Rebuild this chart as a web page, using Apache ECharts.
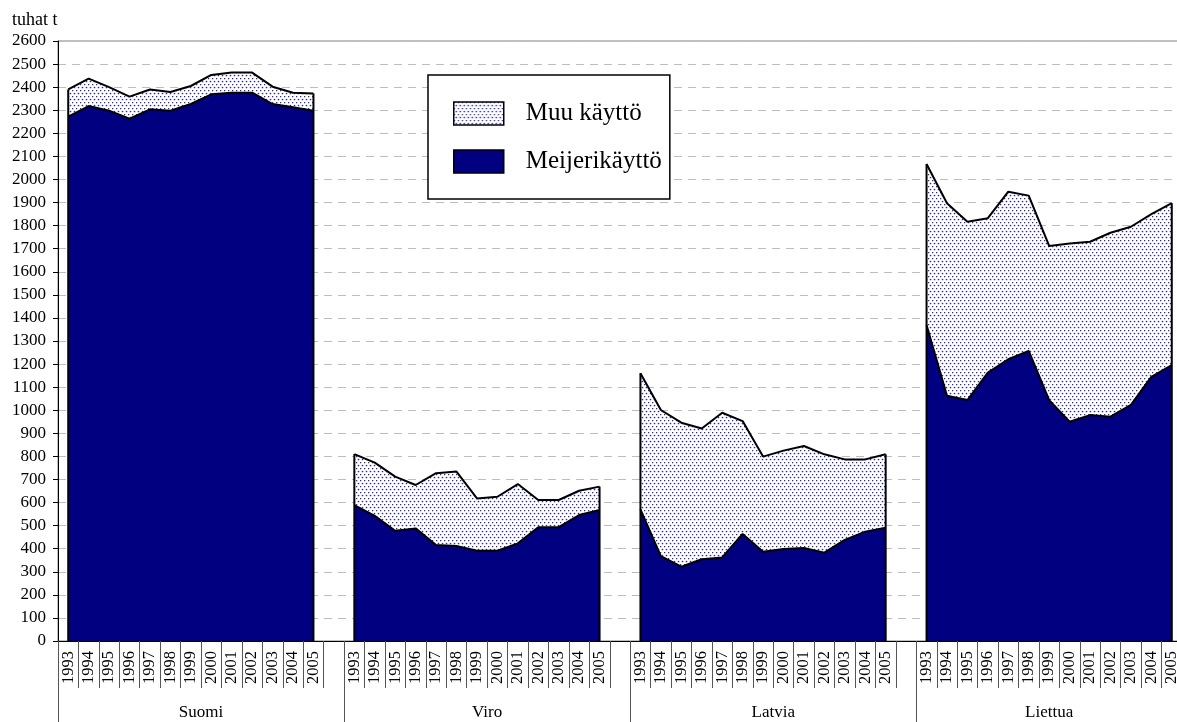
<!DOCTYPE html>
<html>
<head>
<meta charset="utf-8">
<script src="https://cdn.jsdelivr.net/npm/echarts@6/dist/echarts.min.js"></script>
<style>
html,body{margin:0;padding:0;background:#fff;overflow:hidden;}
#chart{width:1182px;height:722px;}
</style>
</head>
<body>
<div id="chart"></div>
<script>
// ---- data ----
const years = ['1993','1994','1995','1996','1997','1998','1999','2000','2001','2002','2003','2004','2005'];
const groups = ['Suomi','Viro','Latvia','Liettua'];
const yTicks = [0, 2600, 100];
const unitLabel = 'tuhat t';
const seriesNames = ['Muu käyttö','Meijerikäyttö'];

const meijeriSuomi   = [2272,2318,2298,2263,2304,2298,2327,2369,2376,2376,2327,2313,2298];
const muuSuomi       = [118,119,102,96,86,81,78,84,87,87,75,63,75];
const meijeriViro    = [589,542,478,488,416,412,391,391,423,493,493,546,568];
const muuViro        = [221,231,234,188,311,322,227,234,257,118,118,105,101];
const meijeriLatvia  = [570,368,322,354,362,464,387,399,403,383,438,474,491];
const muuLatvia      = [590,633,624,567,627,489,412,426,442,426,349,313,318];
const meijeriLiettua = [1369,1063,1044,1163,1221,1257,1044,950,979,972,1023,1145,1196];
const muuLiettua     = [698,834,773,669,726,673,668,773,751,797,772,705,701];

const meijeriByGroup = [meijeriSuomi, meijeriViro, meijeriLatvia, meijeriLiettua];
const muuByGroup = [muuSuomi, muuViro, muuLatvia, muuLiettua];

// ---- build category axis with a blank category between groups ----
const categories = [];
const meijeriData = [];
const muuData = [];
const edgeData = [];
const groupBounds = [0];
const groupCenters = [];
groups.forEach((g, gi) => {
  const start = categories.length;
  years.forEach((y, i) => {
    categories.push(y);
    meijeriData.push(meijeriByGroup[gi][i]);
    muuData.push(muuByGroup[gi][i]);
  });
  const end = categories.length - 1;
  edgeData.push([start, meijeriByGroup[gi][0] + muuByGroup[gi][0]]);
  edgeData.push([end, meijeriByGroup[gi][years.length-1] + muuByGroup[gi][years.length-1]]);
  if (gi < groups.length - 1) {
    categories.push('');
    meijeriData.push(null);
    muuData.push(null);
  }
  groupBounds.push(categories.length);
  groupCenters.push((groupBounds[gi] + categories.length) / 2);
});
const nCat = categories.length;

// ---- dotted pattern ----
function makePattern() {
  const c = document.createElement('canvas');
  c.width = 4; c.height = 6;
  const ctx = c.getContext('2d');
  ctx.fillStyle = '#ffffff';
  ctx.fillRect(0, 0, 4, 6);
  ctx.fillStyle = '#2a2aa0';
  ctx.beginPath(); ctx.arc(0.5, 0.5, 0.85, 0, Math.PI * 2); ctx.fill();
  ctx.beginPath(); ctx.arc(2.5, 3.5, 0.85, 0, Math.PI * 2); ctx.fill();
  return { image: c, repeat: 'repeat' };
}
const pattern = makePattern();
const navy = '#000080';
const serif = 'Liberation Serif';

const chart = echarts.init(document.getElementById('chart'), null, { renderer: 'canvas' });
chart.setOption({
  animation: false,
  backgroundColor: '#fff',
  title: {
    text: unitLabel, left: 7, top: 6,
    textStyle: { fontFamily: serif, fontSize: 18, fontWeight: 'normal', color: '#000' }
  },
  grid: {
    left: 58, right: 0, top: 41, bottom: 81,
    show: true, borderColor: '#808080', borderWidth: 1, backgroundColor: 'transparent'
  },
  legend: {
    orient: 'vertical', left: 428, top: 75,
    padding: [26, 8, 25, 25],
    itemWidth: 50, itemHeight: 23, itemGap: 23,
    borderColor: '#000', borderWidth: 1.5, backgroundColor: '#fff',
    selectedMode: false,
    textStyle: { fontFamily: serif, fontSize: 25, color: '#000', padding: [0, 0, 0, 17] },
    data: [
      { name: seriesNames[0], icon: 'rect', itemStyle: { color: pattern, borderColor: '#000', borderWidth: 1.5 } },
      { name: seriesNames[1], icon: 'rect', itemStyle: { color: navy, borderColor: '#000', borderWidth: 1.5 } }
    ]
  },
  xAxis: [
    {
      type: 'category', data: categories, boundaryGap: true, position: 'bottom',
      axisLine: { show: true, lineStyle: { color: '#000', width: 1 } },
      axisTick: { show: true, interval: 0, length: 47, lineStyle: { color: '#555' } },
      axisLabel: {
        interval: 0, rotate: 90, margin: 10,
        fontFamily: serif, fontSize: 16.5, color: '#000'
      },
      splitLine: { show: false }
    },
    {
      type: 'value', min: 0, max: nCat, position: 'bottom', offset: 0,
      axisLine: { show: false },
      axisTick: { show: true, length: 81, customValues: groupBounds, lineStyle: { color: '#555' } },
      axisLabel: {
        customValues: groupCenters, margin: 63,
        fontFamily: serif, fontSize: 17, color: '#000',
        formatter: function (v) {
          const i = groupCenters.indexOf(v);
          return i >= 0 ? groups[i] : '';
        }
      },
      splitLine: { show: false }
    }
  ],
  yAxis: {
    type: 'value', min: yTicks[0], max: yTicks[1], interval: yTicks[2],
    axisLine: { show: true, lineStyle: { color: '#000', width: 1 } },
    axisTick: { show: true, length: 5, lineStyle: { color: '#000' } },
    axisLabel: {
      fontFamily: serif, fontSize: 17, color: '#000', margin: 12,
      formatter: function (v) { return String(v); }
    },
    splitLine: { show: true, lineStyle: { color: '#bdbdbd', type: [8, 6], width: 1 } }
  },
  series: [
    {
      name: seriesNames[1], type: 'line', stack: 'total', data: meijeriData,
      symbol: 'none', connectNulls: false, color: navy,
      lineStyle: { color: '#000', width: 2 },
      areaStyle: { color: navy, opacity: 1 },
      z: 2
    },
    {
      name: seriesNames[0], type: 'line', stack: 'total', data: muuData,
      symbol: 'none', connectNulls: false, color: '#2a2aa0',
      lineStyle: { color: '#000', width: 2 },
      areaStyle: { color: pattern, opacity: 1 },
      z: 2
    },
    {
      type: 'custom', data: edgeData, z: 5, silent: true,
      renderItem: function (params, api) {
        const top = api.coord([api.value(0), api.value(1)]);
        const bot = api.coord([api.value(0), 0]);
        return {
          type: 'line',
          shape: { x1: top[0], y1: top[1], x2: bot[0], y2: bot[1] },
          style: { stroke: '#000', lineWidth: 2 }
        };
      }
    }
  ]
});
</script>
</body>
</html>
